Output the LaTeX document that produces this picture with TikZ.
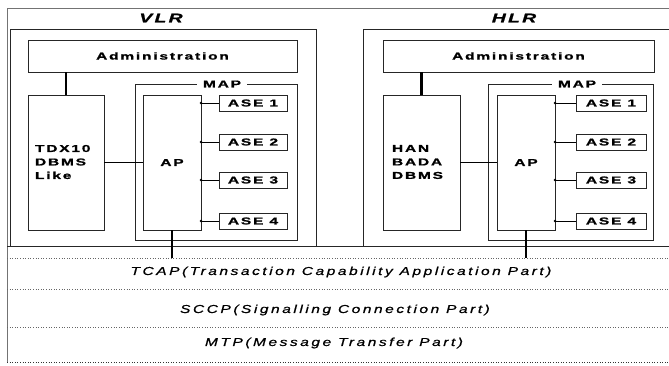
\documentclass[tikz,border=0pt]{standalone}
\usepackage{fontspec}
\setmainfont{Liberation Sans}
\newfontfamily\boxfont[FakeStretch=1.55,LetterSpace=18,FakeBold=1.2]{Liberation Sans Bold}
\newfontfamily\titlefont[FakeStretch=1.55,LetterSpace=18,FakeBold=1.2]{Liberation Sans Bold Italic}
\newfontfamily\layerfont[FakeStretch=1.35,LetterSpace=22,FakeBold=0.8]{Liberation Sans Italic}
\begin{document}
\begin{tikzpicture}[x=1pt,y=-1pt,
  every node/.style={inner sep=0pt, outer sep=0pt},
  frame/.style={draw=black!55, line width=0.5pt},
  blk/.style={draw=black!85, line width=0.8pt, anchor=north west},
  btxt/.style={font=\boxfont\fontsize{10}{11}\selectfont},
  lbl/.style={font=\boxfont\fontsize{10}{13.5}\selectfont, align=left, anchor=west},
  ttl/.style={font=\titlefont\fontsize{12.5}{14}\selectfont},
  maplbl/.style={fill=white, inner xsep=6pt, inner ysep=1pt,
    font=\boxfont\fontsize{10}{11}\selectfont},
  layer/.style={font=\layerfont\fontsize{11.5}{13}\selectfont},
  heavylink/.style={draw=black, line width=2.4pt},
  medlink/.style={draw=black, line width=1.3pt},
  aselink/.style={draw=black, line width=1pt},
  dotline/.style={draw=black!60, line width=0.6pt, dotted},
]
\useasboundingbox (0,0) rectangle (669,365);

% outer frame
\coordinate (fTR) at (669,8);
\coordinate (fTL) at (7,8);
\coordinate (fBL) at (7,362);
\draw[frame] (fTR) -- (fTL) -- (fBL);

% titles
\node[ttl] (vlrt) at (161,18) {VLR};
\node[ttl] (hlrt) at (514,18) {HLR};

% divider between application and lower layers
\coordinate (divL) at (7,246);
\coordinate (divR) at (669,246);
\draw[draw=black!85, line width=0.8pt] (divL) -- (divR);

% ---------------- VLR ----------------
\node[blk, minimum width=306pt, minimum height=217pt] (vlr) at (10,29) {};
\node[blk, minimum width=269pt, minimum height=32pt] (vadm) at (28,40) {};
\node[btxt] (vadmt) at (vadm.center) {Administration};
\node[blk, minimum width=76pt, minimum height=135pt] (vdb) at (28,95) {};
\node[lbl] (vdbt) at (35,162) {TDX10\\DBMS\\Like};
\node[blk, minimum width=162pt, minimum height=156pt] (vmap) at (135,84) {};
\node[maplbl] (vmapt) at (222,84) {MAP};
\node[blk, minimum width=58pt, minimum height=135pt] (vap) at (143,95) {};
\node[btxt] (vapt) at (vap.center) {AP};
\node[blk, minimum width=68pt, minimum height=16pt] (vase1) at (219,95) {};
\node[blk, minimum width=68pt, minimum height=16pt] (vase2) at (219,134) {};
\node[blk, minimum width=68pt, minimum height=16pt] (vase3) at (219,172) {};
\node[blk, minimum width=68pt, minimum height=16pt] (vase4) at (219,213) {};
\node[btxt] (vase1t) at (vase1.center) {ASE 1};
\node[btxt] (vase2t) at (vase2.center) {ASE 2};
\node[btxt] (vase3t) at (vase3.center) {ASE 3};
\node[btxt] (vase4t) at (vase4.center) {ASE 4};

\draw[heavylink] (vdb.north |- vadm.south) -- (vdb.north);
\draw[medlink] (vdb.east) -- (vap.west);
\foreach \i in {1,2,3,4}{
  \draw[aselink] (vap.east |- vase\i.west) -- (vase\i.west);
  \fill (vap.east |- vase\i.west) circle (1.4pt);
}

% ---------------- HLR ----------------
\coordinate (hTR) at (669,29);
\coordinate (hTL) at (363,29);
\coordinate (hBL) at (363,246);
\draw[draw=black!85, line width=0.8pt] (hTR) -- (hTL) -- (hBL);
\node[blk, minimum width=271pt, minimum height=32pt] (hadm) at (383,40) {};
\node[btxt] (hadmt) at (hadm.center) {Administration};
\node[blk, minimum width=77pt, minimum height=135pt] (hdb) at (383,95) {};
\node[lbl] (hdbt) at (392,162) {HAN\\BADA\\DBMS};
\node[blk, minimum width=165pt, minimum height=156pt] (hmap) at (488,84) {};
\node[maplbl] (hmapt) at (577,84) {MAP};
\node[blk, minimum width=58pt, minimum height=135pt] (hap) at (497,95) {};
\node[btxt] (hapt) at (hap.center) {AP};
\node[blk, minimum width=70pt, minimum height=16pt] (hase1) at (576,95) {};
\node[blk, minimum width=70pt, minimum height=16pt] (hase2) at (576,134) {};
\node[blk, minimum width=70pt, minimum height=16pt] (hase3) at (576,172) {};
\node[blk, minimum width=70pt, minimum height=16pt] (hase4) at (576,213) {};
\node[btxt] (hase1t) at (hase1.center) {ASE 1};
\node[btxt] (hase2t) at (hase2.center) {ASE 2};
\node[btxt] (hase3t) at (hase3.center) {ASE 3};
\node[btxt] (hase4t) at (hase4.center) {ASE 4};

\draw[heavylink] (hdb.north |- hadm.south) -- (hdb.north);
\draw[medlink] (hdb.east) -- (hap.west);
\foreach \i in {1,2,3,4}{
  \draw[aselink] (hap.east |- hase\i.west) -- (hase\i.west);
  \fill (hap.east |- hase\i.west) circle (1.4pt);
}

% ---------------- lower layers ----------------
\coordinate (d1L) at (7,258);  \coordinate (d1R) at (669,258);
\coordinate (d2L) at (7,289);  \coordinate (d2R) at (669,289);
\coordinate (d3L) at (7,327);  \coordinate (d3R) at (669,327);
\coordinate (d4L) at (7,362);  \coordinate (d4R) at (669,362);
\draw[dotline] (d1L) -- (d1R);
\draw[dotline] (d2L) -- (d2R);
\draw[dotline] (d3L) -- (d3R);
\draw[dotline, draw=black!80] (d4L) -- (d4R);

\draw[heavylink] (vap.south) -- (vap.south |- d1L);
\draw[heavylink] (hap.south) -- (hap.south |- d1L);

\node[layer] (tcap) at (341,272) {TCAP(Transaction Capability Application Part)};
\node[layer] (sccp) at (335,310) {SCCP(Signalling Connection Part)};
\node[layer] (mtp) at (334,343) {MTP(Message Transfer Part)};
\end{tikzpicture}
\end{document}
